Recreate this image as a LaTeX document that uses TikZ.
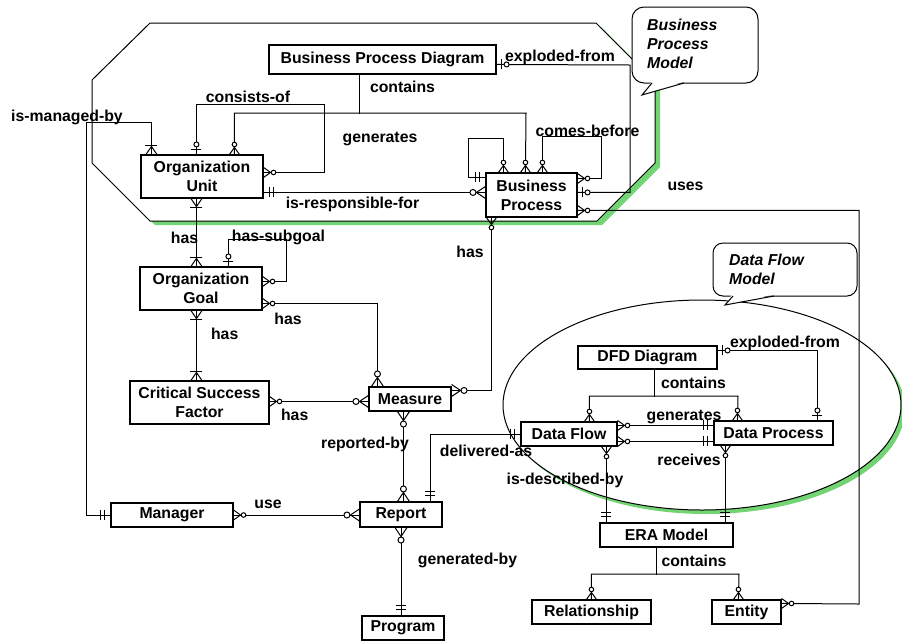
\documentclass[tikz,border=0pt]{standalone}
\usepackage{fontspec}
\setmainfont{Liberation Sans}
\begin{document}
\begin{tikzpicture}[x=1pt,y=-1pt,
  ent/.style={draw, line width=1.1pt, fill=white, inner sep=0pt, align=center,
    font=\bfseries\fontsize{15.8}{19}\selectfont},
  lbl/.style={inner sep=0pt, anchor=base, font=\bfseries\fontsize{15.8}{19}\selectfont},
  note/.style={inner sep=0pt, anchor=north west, align=left,
    font=\bfseries\itshape\fontsize{15.8}{19}\selectfont},
  conn/.style={line width=1pt},
  frame/.style={line width=1pt, fill=white},
  shade/.style={fill={rgb,255:red,115;green,212;blue,115}},
  % crow's-foot end markers; local x axis points away from the entity box
  zmany/.pic={\draw[line width=1pt] (0,5) -- (7,0) -- (0,-5);
              \draw[line width=1pt,fill=white] (10,0) circle (2.3);},
  zmanyL/.pic={\draw[line width=1pt] (0,6) -- (9,0) -- (0,-6);
               \draw[line width=1pt,fill=white] (12.5,0) circle (3);},
  omany/.pic={\draw[line width=1pt] (0,5.5) -- (8,0) -- (0,-5.5);
              \draw[line width=1pt] (9,6) -- (9,-6);},
  zone/.pic={\draw[line width=1pt] (5,5) -- (5,-5);
             \draw[line width=1pt,fill=white] (10,0) circle (2.5);},
  oone/.pic={\draw[line width=1pt] (6,5) -- (6,-5) (9.5,5) -- (9.5,-5);}
]
\useasboundingbox (0,0) rectangle (902,641);

% ---- model boundaries with their shadows ----
\fill[shade] (155,27) -- (601,27) -- (660,86) -- (660,167) -- (602,225) -- (155,225) -- (97,167) -- (97,84) -- cycle;
\draw[frame] (150,23) -- (596,23) -- (655,82) -- (655,163) -- (597,221) -- (150,221) -- (92,163) -- (92,80) -- cycle;
\fill[shade] (706,409) ellipse [x radius=199, y radius=105];
\draw[frame] (702,405) ellipse [x radius=199, y radius=105];

% ---- entities ----
\node[ent, minimum width=227pt, minimum height=29pt] (bpd) at (382.5,59.5) {Business Process Diagram};
\node[ent, minimum width=122pt, minimum height=43pt] (ou)  at (202,176.5) {Organization\\Unit};
\node[ent, minimum width=91pt,  minimum height=44pt] (bp)  at (531.5,195) {Business\\Process};
\node[ent, minimum width=122pt, minimum height=43pt] (og)  at (201,288.5) {Organization\\Goal};
\node[ent, minimum width=139pt, minimum height=43pt] (csf) at (199.5,402.5) {Critical Success\\Factor};
\node[ent, minimum width=82pt,  minimum height=24pt] (ms)  at (410,399) {Measure};
\node[ent, minimum width=82pt,  minimum height=25pt] (rp)  at (401,514.5) {Report};
\node[ent, minimum width=122pt, minimum height=24pt] (mgr) at (172,515) {Manager};
\node[ent, minimum width=82pt,  minimum height=24pt] (pg)  at (403,628) {Program};
\node[ent, minimum width=139pt, minimum height=23pt] (dfd) at (647.5,357.5) {DFD Diagram};
\node[ent, minimum width=96pt,  minimum height=24pt] (df)  at (569,434) {Data Flow};
\node[ent, minimum width=119pt, minimum height=24pt] (dp)  at (773.5,433) {Data Process};
\node[ent, minimum width=133pt, minimum height=24pt] (era) at (666.5,535) {ERA Model};
\node[ent, minimum width=119pt, minimum height=24pt] (rel) at (591.5,612) {Relationship};
\node[ent, minimum width=69pt,  minimum height=24pt] (ent) at (746.5,612) {Entity};

% ---- relationships ----
% is-managed-by
\draw[conn] ([xshift=11pt]ou.north west) |- (86,122) |- (mgr.west);
\pic[rotate=90] at ([xshift=11pt]ou.north west) {omany};
\pic[rotate=180] at (mgr.west) {oone};
% consists-of
\draw[conn] ([xshift=56pt]ou.north west) |- (324,104) |- ([yshift=-18pt]ou.north east);
\pic[rotate=90] at ([xshift=56pt]ou.north west) {zone};
\pic at ([yshift=-18pt]ou.north east) {zmany};
% contains / generates
\draw[conn] ([xshift=94pt]ou.north west) |- (526,113) -- ([xshift=40pt]bp.north west);
\draw[conn] ([xshift=91pt]bpd.south west) -- ++(0,39);
\pic[rotate=90] at ([xshift=94pt]ou.north west) {zmany};
\pic[rotate=90] at ([xshift=40pt]bp.north west) {zmany};
% process self loop
\draw[conn] ([xshift=18pt]bp.north west) |- (468,138) |- ([yshift=-5pt]bp.north west);
\pic[rotate=90] at ([xshift=18pt]bp.north west) {zmany};
\pic[rotate=180] at ([yshift=-5pt]bp.north west) {oone};
% comes-before
\draw[conn] ([xshift=57pt]bp.north west) |- (601,136) |- ([yshift=-6pt]bp.north east);
\pic[rotate=90] at ([xshift=57pt]bp.north west) {zmany};
\pic at ([yshift=-6pt]bp.north east) {zmany};
% exploded-from (process diagram)
\draw[conn] ([yshift=-20pt]bp.north east) -| (630,65) -- ([yshift=-20pt]bpd.north east);
\pic at ([yshift=-20pt]bp.north east) {zone};
\pic at ([yshift=-20pt]bpd.north east) {zone};
% uses
\draw[conn] ([yshift=-38pt]bp.north east) -| (859,604) -- ([yshift=-4pt]ent.north east);
\pic at ([yshift=-38pt]bp.north east) {zmany};
\pic at ([yshift=-4pt]ent.north east) {zmany};
% is-responsible-for
\draw[conn] ([yshift=-38pt]ou.north east) -- ([yshift=-20pt]bp.north west);
\pic at ([yshift=-38pt]ou.north east) {oone};
\pic[rotate=180] at ([yshift=-20pt]bp.north west) {zmanyL};
% process has measure
\draw[conn] ([xshift=6pt]bp.south west) |- ([yshift=-4pt]ms.north east);
\pic[rotate=-90] at ([xshift=6pt]bp.south west) {zmany};
\pic at ([yshift=-4pt]ms.north east) {zmanyL};
% unit has goal
\draw[conn] ([xshift=56pt]ou.south west) -- ([xshift=57pt]og.north west);
\pic[rotate=-90] at ([xshift=56pt]ou.south west) {omany};
\pic[rotate=90] at ([xshift=57pt]og.north west) {omany};
% has-subgoal
\draw[conn] ([xshift=89pt]og.north west) |- (286,239) |- ([yshift=-15pt]og.north east);
\pic[rotate=90] at ([xshift=89pt]og.north west) {zone};
\pic at ([yshift=-15pt]og.north east) {zmany};
% goal has measure
\draw[conn] ([yshift=-37pt]og.north east) -| ([xshift=9pt]ms.north west);
\pic at ([yshift=-37pt]og.north east) {zmany};
\pic[rotate=90] at ([xshift=9pt]ms.north west) {zmanyL};
% goal has success factor
\draw[conn] ([xshift=57pt]og.south west) -- ([xshift=67pt]csf.north west);
\pic[rotate=-90] at ([xshift=57pt]og.south west) {omany};
\pic[rotate=90] at ([xshift=67pt]csf.north west) {omany};
% success factor has measure
\draw[conn] ([yshift=-21pt]csf.north east) -- ([yshift=-15pt]ms.north west);
\pic at ([yshift=-21pt]csf.north east) {zmany};
\pic[rotate=180] at ([yshift=-15pt]ms.north west) {zmanyL};
% reported-by
\draw[conn] ([xshift=35pt]ms.south west) -- ([xshift=44pt]rp.north west);
\pic[rotate=-90] at ([xshift=35pt]ms.south west) {zmanyL};
\pic[rotate=90] at ([xshift=44pt]rp.north west) {zmanyL};
% delivered-as
\draw[conn] ([xshift=71pt]rp.north west) |- (df.west);
\pic[rotate=90] at ([xshift=71pt]rp.north west) {oone};
\pic[rotate=180] at (df.west) {oone};
% use
\draw[conn] (mgr.east) -- (mgr.east -| rp.west);
\pic at (mgr.east) {zmany};
\pic[rotate=180] at (mgr.east -| rp.west) {zmanyL};
% generated-by
\draw[conn] (rp.south) -- (rp.south |- pg.north);
\pic[rotate=-90] at (rp.south) {zmanyL};
\pic[rotate=90] at (rp.south |- pg.north) {oone};
% DFD contains
\draw[conn] ([xshift=77pt]dfd.south west) -- ++(0,27);
\draw[conn] ([xshift=69pt]df.north west) |- (738,396) -- ([xshift=24pt]dp.north west);
\pic[rotate=90] at ([xshift=69pt]df.north west) {zmany};
\pic[rotate=90] at ([xshift=24pt]dp.north west) {zmany};
% DFD exploded-from
\draw[conn] ([yshift=-5pt]dfd.north east) -| ([xshift=104pt]dp.north west);
\pic at ([yshift=-5pt]dfd.north east) {zone};
\pic[rotate=90] at ([xshift=104pt]dp.north west) {zone};
% generates / receives
\draw[conn] ([yshift=-4pt]df.north east) -- ([yshift=-5pt]dp.north west);
\pic at ([yshift=-4pt]df.north east) {zmany};
\pic[rotate=180] at ([yshift=-5pt]dp.north west) {oone};
\draw[conn] ([yshift=-20pt]df.north east) -- ([yshift=-21pt]dp.north west);
\pic at ([yshift=-20pt]df.north east) {zmany};
\pic[rotate=180] at ([yshift=-21pt]dp.north west) {oone};
% is-described-by
\draw[conn] ([xshift=86pt]df.south west) -- ([xshift=7pt]era.north west);
\pic[rotate=-90] at ([xshift=86pt]df.south west) {zmany};
\pic[rotate=90] at ([xshift=7pt]era.north west) {oone};
\draw[conn] ([xshift=12pt]dp.south west) -- ([xshift=126pt]era.north west);
\pic[rotate=-90] at ([xshift=12pt]dp.south west) {zmany};
\pic[rotate=90] at ([xshift=126pt]era.north west) {oone};
% ERA contains
\draw[conn] ([xshift=57pt]era.south west) -- ++(0,27);
\draw[conn] ([xshift=60pt]rel.north west) |- (739,574) -- ([xshift=27pt]ent.north west);
\pic[rotate=90] at ([xshift=60pt]rel.north west) {zmany};
\pic[rotate=90] at ([xshift=27pt]ent.north west) {zmany};

% ---- relationship labels ----
\node[lbl] (t1)  at (67,121)    {is-managed-by};
\node[lbl] (t2)  at (248,102)   {consists-of};
\node[lbl] (t3)  at (402.5,92)  {contains};
\node[lbl] (t4)  at (380,142.5) {generates};
\node[lbl] (t5)  at (587.5,136) {comes-before};
\node[lbl] (t6)  at (560,61)    {exploded-from};
\node[lbl] (t7)  at (352.5,208) {is-responsible-for};
\node[lbl] (t8)  at (685.5,190.5) {uses};
\node[lbl] (t9)  at (184.5,243) {has};
\node[lbl] (t10) at (278.5,241) {has-subgoal};
\node[lbl] (t11) at (470,257)   {has};
\node[lbl] (t12) at (288,324.5) {has};
\node[lbl] (t13) at (224.7,339.5) {has};
\node[lbl] (t14) at (294.7,420) {has};
\node[lbl] (t15) at (365,448)   {reported-by};
\node[lbl] (t16) at (486,456)   {delivered-as};
\node[lbl] (t17) at (268,508.3) {use};
\node[lbl] (t18) at (467.5,564) {generated-by};
\node[lbl] (t19) at (693.5,388) {contains};
\node[lbl] (t20) at (785,347)   {exploded-from};
\node[lbl] (t21) at (684,420.5) {generates};
\node[lbl] (t22) at (689,465.7) {receives};
\node[lbl] (t23) at (565,484)   {is-described-by};
\node[lbl] (t24) at (694,566)   {contains};

% ---- callouts ----
\draw[frame, rounded corners=12pt] (632,7) rectangle (758,83);
\fill[white] (652,81.5) -- (684,81.5) -- (642,95) -- cycle;
\draw[conn] (652,83) -- (642,95) -- (684,83);
\node[note] (bpm) at (647,18.5) {Business\\Process\\Model};

\draw[frame, rounded corners=10pt] (713,243) rectangle (857,296);
\fill[white] (732,294.5) -- (774,294.5) -- (725,305) -- cycle;
\draw[conn] (733,296) -- (725,305) -- (774,296);
\node[note] (dfm) at (729,253.5) {Data Flow\\Model};
\end{tikzpicture}
\end{document}
